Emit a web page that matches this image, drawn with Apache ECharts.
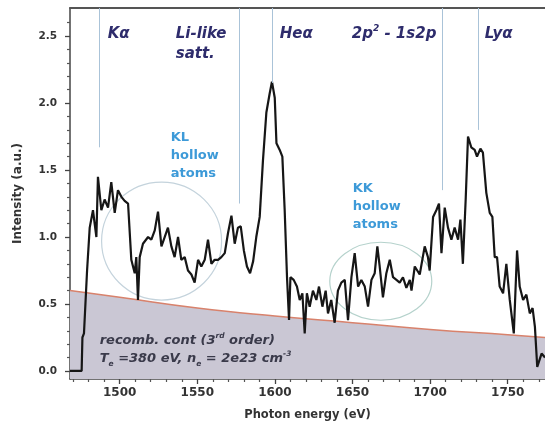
<!DOCTYPE html>
<html>
<head>
<meta charset="utf-8">
<script src="https://cdn.jsdelivr.net/npm/echarts@6/dist/echarts.min.js"></script>
<style>html,body{margin:0;padding:0;background:#fff}#c{width:545px;height:427px}</style>
</head>
<body>
<div id="c"></div>
<script>
// ---- data ----
const energy = [1468,1475.5,1476,1477,1479,1480.7,1482.8,1485,1486,1488.2,1490.3,1492.5,1494.6,1496.8,1498.9,1501.1,1503.2,1505.4,1507.5,1509.7,1510.7,1511.8,1512.9,1515,1518.3,1520.4,1522.6,1524.7,1526.9,1529,1531.1,1533.3,1535.4,1537.6,1539.7,1541.9,1544,1546.2,1548.3,1550.5,1552.6,1554.8,1556.9,1559.1,1561.2,1563.4,1565.5,1567.7,1569.8,1572,1574.1,1576.2,1578,1580,1582,1584,1586,1588,1590.2,1592.3,1594.5,1596.6,1598.1,1599.9,1601,1603.1,1604.8,1606.3,1607.8,1609.1,1610,1612.1,1614.2,1616,1617.7,1619.2,1620.6,1622.4,1624.5,1626.7,1628.4,1630.6,1632.7,1634.2,1636.3,1638.5,1640.6,1642.8,1645,1647.1,1649.3,1651.4,1653.6,1655.7,1657.9,1660,1662.2,1664.3,1666,1667.5,1669.6,1671.8,1674,1676.1,1678.3,1680.4,1682.5,1684.7,1686.9,1688,1690.1,1693.3,1696.5,1698.6,1699.7,1701.9,1704,1705.7,1707.3,1709.4,1711.5,1713.7,1715.8,1718,1719.5,1721.1,1722.9,1724.4,1726.5,1728.7,1730.2,1732.4,1734,1736.2,1738.4,1740.1,1741.6,1743.1,1744.8,1747,1749.1,1751.3,1753.9,1756,1757.7,1759.9,1762,1764.2,1766,1767.5,1769,1771.8,1774];
const intensity = [0,0,0.25,0.28,0.75,1.07,1.20,1.0,1.45,1.20,1.28,1.22,1.41,1.18,1.35,1.30,1.27,1.25,0.83,0.73,0.85,0.53,0.85,0.95,1.0,0.98,1.05,1.19,0.93,1.0,1.07,0.93,0.85,1.0,0.83,0.85,0.75,0.72,0.66,0.83,0.78,0.83,0.98,0.80,0.83,0.83,0.85,0.88,1.03,1.16,0.95,1.07,1.08,0.90,0.78,0.73,0.82,1.0,1.15,1.57,1.93,2.07,2.16,2.04,1.70,1.65,1.60,1.2,0.70,0.38,0.70,0.68,0.63,0.53,0.58,0.28,0.58,0.48,0.60,0.53,0.63,0.48,0.60,0.43,0.53,0.36,0.60,0.66,0.68,0.38,0.70,0.88,0.63,0.68,0.63,0.48,0.68,0.73,0.93,0.78,0.55,0.73,0.83,0.70,0.68,0.66,0.70,0.62,0.68,0.60,0.78,0.72,0.93,0.85,0.75,1.15,1.2,1.25,0.88,1.22,1.07,0.98,1.07,0.98,1.13,0.8,1.28,1.75,1.67,1.65,1.6,1.66,1.63,1.33,1.18,1.15,0.85,0.85,0.63,0.58,0.8,0.53,0.28,0.9,0.63,0.53,0.57,0.43,0.47,0.33,0.03,0.13,0.10];
const contEnergy = [1468,1500,1550,1600,1650,1700,1750,1774];
const contValue = [0.60,0.55,0.47,0.41,0.36,0.31,0.27,0.25];
const xTicks = [1500,1550,1600,1650,1700,1750];
const xMinor = [1470,1480,1490,1510,1520,1530,1540,1560,1570,1580,1590,1610,1620,1630,1640,1660,1670,1680,1690,1710,1720,1730,1740,1760,1770];
const yTicks = [0,0.5,1.0,1.5,2.0,2.5];
const yMinor = [0.1,0.2,0.3,0.4,0.6,0.7,0.8,0.9,1.1,1.2,1.3,1.4,1.6,1.7,1.8,1.9,2.1,2.2,2.3,2.4,2.6];
const lineNames = ['Kα','Li-like satt.','Heα','2p² - 1s2p','Lyα'];
const lineEnergy = [1487,1577,1598,1708,1731];
const lineEnd = [1.67,1.25,2.15,1.35,1.80];

const X_MIN = 1468, X_MAX = 1774, Y_MIN = -0.06, Y_MAX = 2.71;
const FONT = 'DejaVu Sans';
const chart = echarts.init(document.getElementById('c'), null, {renderer:'canvas'});

const navy = '#2e2c6c';
const lblStyle = {fontFamily:FONT, fontSize:15, fontWeight:'bold', fontStyle:'italic', color:navy, lineHeight:20};
const blue = {fontFamily:FONT, fontSize:13, fontWeight:'bold', color:'#3d9ad8', lineHeight:18};
const tickFont = {fontFamily:FONT, fontWeight:'bold', color:'#333'};

function mp(coord, formatter, style, rich){
  return {coord:coord, symbolSize:0, label:Object.assign({show:true, position:'inside', align:'left', verticalAlign:'top', formatter:formatter, rich:rich||{}}, style)};
}

const option = {
  animation:false,
  grid:{left:70, right:-2, top:8, bottom:48, containLabel:false},
  xAxis:[{
    type:'value', min:X_MIN, max:X_MAX, position:'bottom',
    name:'Photon energy (eV)', nameLocation:'middle', nameGap:30,
    nameTextStyle:Object.assign({fontSize:11.5}, tickFont),
    axisLine:{show:true, onZero:false, lineStyle:{color:'#444', width:1.5}},
    axisTick:{show:true, customValues:xTicks, length:5, lineStyle:{color:'#444', width:1.3}},
    axisLabel:Object.assign({customValues:xTicks, margin:8, fontSize:12, formatter:v=>String(v)}, tickFont),
    splitLine:{show:false}
  },{
    type:'value', min:X_MIN, max:X_MAX, position:'bottom', offset:0,
    axisLine:{show:false, onZero:false},
    axisTick:{show:true, customValues:xMinor, length:3, lineStyle:{color:'#555', width:1.2}},
    axisLabel:{show:false}, splitLine:{show:false}
  },{
    type:'value', min:X_MIN, max:X_MAX, position:'top',
    axisLine:{show:true, onZero:false, lineStyle:{color:'#555', width:2}},
    axisTick:{show:false}, axisLabel:{show:false}, splitLine:{show:false}
  }],
  yAxis:[{
    type:'value', min:Y_MIN, max:Y_MAX, position:'left',
    name:'Intensity (a.u.)', nameLocation:'middle', nameGap:46,
    nameTextStyle:Object.assign({fontSize:12}, tickFont),
    axisLine:{show:true, onZero:false, lineStyle:{color:'#444', width:1.5}},
    axisTick:{show:true, customValues:yTicks, length:5, lineStyle:{color:'#444', width:1.3}},
    axisLabel:Object.assign({customValues:yTicks, margin:13, fontSize:10.5, formatter:v=>v.toFixed(1)}, tickFont),
    splitLine:{show:false}
  },{
    type:'value', min:Y_MIN, max:Y_MAX, position:'left', offset:0,
    axisLine:{show:false, onZero:false},
    axisTick:{show:true, customValues:yMinor, length:3, lineStyle:{color:'#555', width:1.2}},
    axisLabel:{show:false}, splitLine:{show:false}
  }],
  series:[{
    type:'line', name:'continuum', xAxisIndex:0, yAxisIndex:0,
    data:contEnergy.map((e,i)=>[e,contValue[i]]), smooth:true, symbol:'none',
    lineStyle:{color:'#d8826c', width:1.5},
    areaStyle:{color:'#cac7d4', opacity:1, origin:'start'},
    z:1,
    markPoint:{silent:true, data:[
      mp([1487.1,0.29], '{a|recomb. cont (3}{s|rd}{a| order)}\n{a|T}{b|e}{a| =380 eV, n}{b|e}{a| = 2e23 cm}{s|-3}',
        {color:'#3a3a4a'},
        {a:{fontFamily:FONT, fontSize:13, fontWeight:'bold', fontStyle:'italic', color:'#3a3a4a', lineHeight:18},
         s:{fontFamily:FONT, fontSize:7.5, fontWeight:'bold', fontStyle:'italic', color:'#3a3a4a', verticalAlign:'top', lineHeight:18},
         b:{fontFamily:FONT, fontSize:7.5, fontWeight:'bold', fontStyle:'italic', color:'#3a3a4a', verticalAlign:'bottom', lineHeight:13}})
    ]}
  },{
    type:'line', name:'spectrum', xAxisIndex:0, yAxisIndex:0,
    data:energy.map((e,i)=>[e,intensity[i]]), symbol:'none',
    lineStyle:{color:'#161616', width:2.2}, z:3,
    markLine:{silent:true, symbol:'none', label:{show:false}, lineStyle:{color:'#aac3d8', width:1, type:'solid'},
      data:lineEnergy.map((e,i)=>[{coord:[e,Y_MAX]},{coord:[e,lineEnd[i]]}])},
    markPoint:{silent:true, data:[
      mp([1492.3,2.59], lineNames[0], lblStyle),
      mp([1536.1,2.59], 'Li-like\nsatt.', lblStyle),
      mp([1603.1,2.59], lineNames[2], lblStyle),
      mp([1649.5,2.59], '2p{s|2} - 1s2p', lblStyle, {s:{fontFamily:FONT, fontSize:9, fontWeight:'bold', fontStyle:'italic', color:navy, verticalAlign:'top', lineHeight:20}}),
      mp([1735.2,2.59], lineNames[4], lblStyle),
      mp([1532.9,1.81], 'KL\nhollow\natoms', blue),
      mp([1650.1,1.43], 'KK\nhollow\natoms', blue)
    ]}
  }]
};
chart.setOption(option);

// annotation ellipses, anchored in data space
const c1 = chart.convertToPixel({xAxisIndex:0, yAxisIndex:0}, [1527, 0.97]);
const c2 = chart.convertToPixel({xAxisIndex:0, yAxisIndex:0}, [1668.2, 0.67]);
chart.setOption({graphic:[
  {type:'ellipse', shape:{cx:c1[0], cy:c1[1], rx:60, ry:59}, style:{fill:null, stroke:'#c4d3dc', lineWidth:1.2}, z:2},
  {type:'ellipse', shape:{cx:c2[0], cy:c2[1], rx:51, ry:39}, style:{fill:null, stroke:'#b5d2cc', lineWidth:1.2}, z:2}
]});
</script>
</body>
</html>
